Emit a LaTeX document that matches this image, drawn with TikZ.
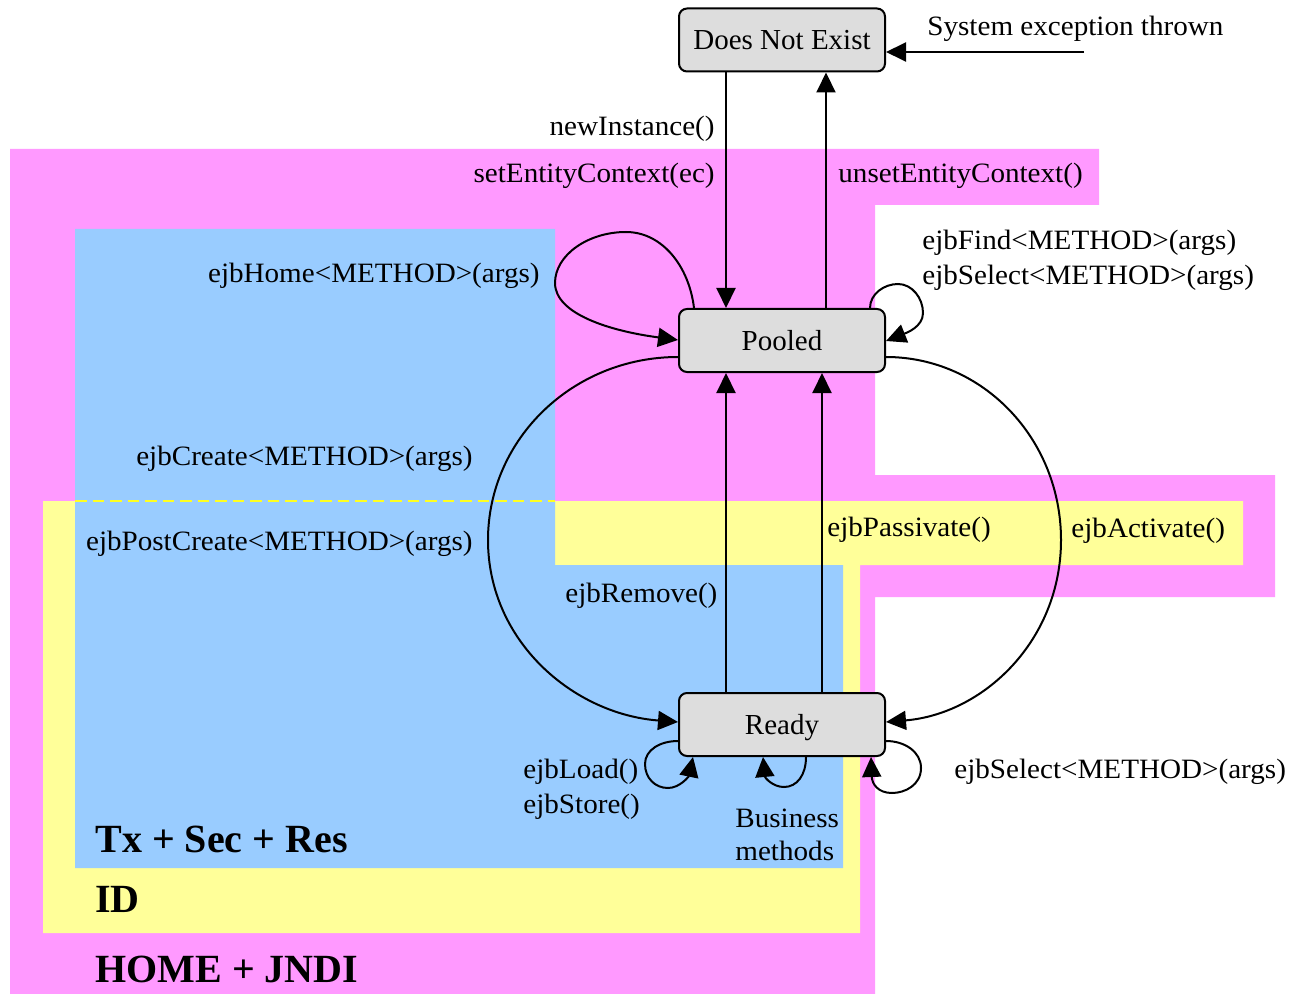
\documentclass[tikz,border=0pt]{standalone}
\usepackage{fontspec}
\setmainfont{Liberation Serif}
\newfontfamily\lblfont{Liberation Serif}[FakeStretch=1.04]
\usetikzlibrary{arrows.meta,calc}
\definecolor{pinkbg}{HTML}{FF99FF}
\definecolor{yellowbg}{HTML}{FFFF99}
\definecolor{bluebg}{HTML}{99CCFF}
\definecolor{stategray}{HTML}{DDDDDD}
\definecolor{dashyellow}{HTML}{FFFF22}
\begin{document}
\begin{tikzpicture}[x=0.5pt,y=-0.5pt,
  state/.style={draw=black, line width=1pt, fill=stategray, rounded corners=4pt,
    minimum width=103pt, minimum height=31.5pt, inner sep=0pt, text depth=0pt,
    font=\fontsize{14.5pt}{17pt}\selectfont},
  lbl/.style={inner sep=0pt, font=\lblfont\fontsize{14pt}{16pt}\selectfont},
  big/.style={inner sep=0pt, font=\bfseries\fontsize{20pt}{24pt}\selectfont},
  arr/.style={line width=1pt, -{Triangle[length=10pt,width=9.5pt]}},
]
\useasboundingbox (0,0) rectangle (1289,994);
% regions
\fill[pinkbg] (10,149) -- (1099,149) -- (1099,205) -- (875,205) -- (875,475)
  -- (1275,475) -- (1275,597) -- (875,597) -- (875,994) -- (10,994) -- cycle;
\fill[yellowbg] (43,501) -- (1243,501) -- (1243,565) -- (860,565) -- (860,933)
  -- (43,933) -- cycle;
\fill[bluebg] (75,229) -- (555,229) -- (555,565) -- (843,565) -- (843,868)
  -- (75,868) -- cycle;
\draw[dashyellow, line width=1pt, dash pattern=on 5.75pt off 3pt] (75,501) -- (555,501);

% states
\node[state] (dne) at (782,40) {Does Not Exist};
\node[state] (pooled) at (782,340.5) {Pooled};
\node[state] (ready) at (782,724.5) {Ready};

% helper coordinates
\coordinate (sysstart) at (1084,52);

% vertical connectors
\draw[arr] (726,0 |- dne.south) -- (726,0 |- pooled.north);
\draw[arr] (826,0 |- pooled.north) -- (826,0 |- dne.south);
\draw[arr] (sysstart) -- (dne.east |- sysstart);
\draw[arr] (726,0 |- ready.north) -- (726,0 |- pooled.south);
\draw[arr] (822,0 |- ready.north) -- (822,0 |- pooled.south);

% ejbHome loop
\draw[arr] (694,0 |- pooled.north) .. controls (689,266) and (662,232) .. (626,232)
  .. controls (588,232) and (555,255) .. (555,283)
  .. controls (555,314) and (610,331) .. (pooled.west |- 0,340);
% ejbFind / ejbSelect loop on Pooled
\draw[arr] (870,0 |- pooled.north) .. controls (870,294) and (884,284) .. (898,284)
  .. controls (912,284) and (923,298) .. (923,313)
  .. controls (923,327) and (906,333) .. (pooled.east |- 0,341);
% big left arc (ejbCreate / ejbPostCreate)
\draw[arr] (pooled.west |- 0,357) .. controls (573,357) and (488,439) .. (488,540)
  .. controls (488,641) and (573,714) .. (ready.west |- 0,722);
% big right arc (ejbActivate)
\draw[arr] (pooled.east |- 0,357) .. controls (983,357) and (1061,439) .. (1061,540)
  .. controls (1061,641) and (983,714) .. (ready.east |- 0,722);
% ejbLoad / ejbStore loop
\draw[arr] (ready.west |- 0,741) .. controls (660,741) and (645,750) .. (645,764)
  .. controls (645,778) and (655,788) .. (668,788)
  .. controls (680,788) and (689,776) .. (693,0 |- ready.south);
% business methods loop
\draw[arr] (806,0 |- ready.south) .. controls (806,775) and (797,787) .. (784,787)
  .. controls (773,787) and (765,778) .. (763,0 |- ready.south);
% ejbSelect loop on Ready
\draw[arr] (ready.east |- 0,741) .. controls (905,741) and (921,752) .. (921,768)
  .. controls (921,785) and (905,793) .. (892,793)
  .. controls (878,793) and (872,784) .. (871,0 |- ready.south);

% labels
\node[lbl, anchor=base west] (lsys) at (927,36) {System exception thrown};
\node[lbl, anchor=base east] (lnew) at (715,136) {newInstance()};
\node[lbl, anchor=base east] (lset) at (715,183) {setEntityContext(ec)};
\node[lbl, anchor=base west] (lunset) at (838,183) {unsetEntityContext()};
\node[lbl, anchor=base east] (lhome) at (540,283) {ejbHome<METHOD>(args)};
\node[lbl, anchor=base west] (lfind) at (922,250) {ejbFind<METHOD>(args)};
\node[lbl, anchor=base west] (lsel1) at (922,285) {ejbSelect<METHOD>(args)};
\node[lbl, anchor=base east] (lcreate) at (473,465) {ejbCreate<METHOD>(args)};
\node[lbl, anchor=base east] (lpost) at (473,550) {ejbPostCreate<METHOD>(args)};
\node[lbl, anchor=base west] (lpass) at (827,536) {ejbPassivate()};
\node[lbl, anchor=base west] (lact) at (1071,537) {ejbActivate()};
\node[lbl, anchor=base west] (lrem) at (565,602) {ejbRemove()};
\node[lbl, anchor=base west] (lload) at (523,778) {ejbLoad()};
\node[lbl, anchor=base west] (lstore) at (523,813) {ejbStore()};
\node[lbl, anchor=base west] (lbus) at (735,827) {Business};
\node[lbl, anchor=base west] (lmeth) at (735,860) {methods};
\node[lbl, anchor=base west] (lsel2) at (954,778) {ejbSelect<METHOD>(args)};
\node[big, anchor=base west] (ltx) at (95,852) {Tx + Sec + Res};
\node[big, anchor=base west] (lid) at (95,912) {ID};
\node[big, anchor=base west] (lhj) at (95,982) {HOME + JNDI};
\end{tikzpicture}
\end{document}
